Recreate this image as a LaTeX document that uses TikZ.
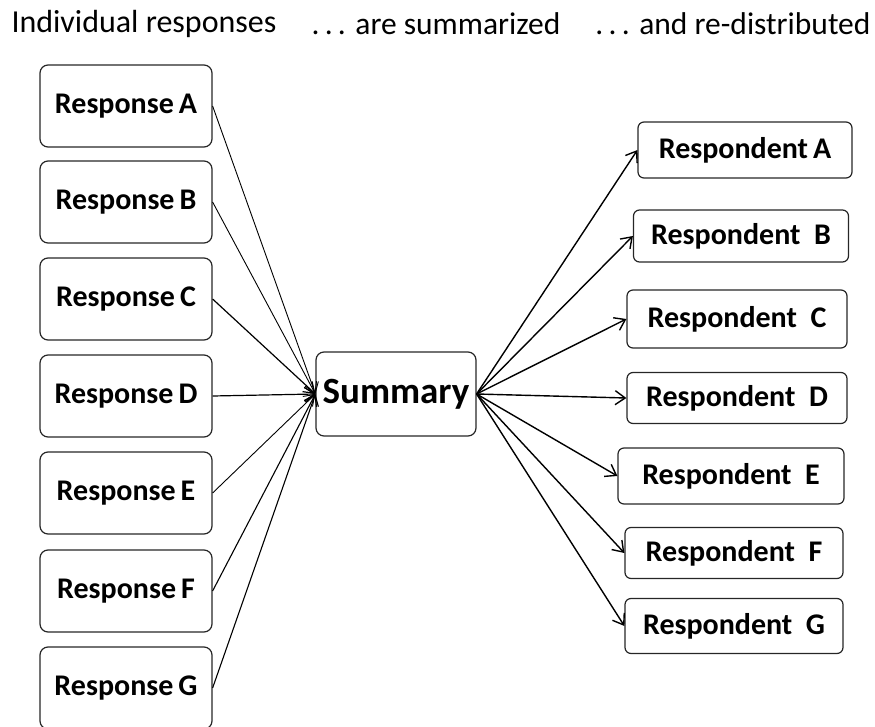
\documentclass[tikz,border=0pt]{standalone}
\usepackage{fontspec}
\setmainfont{Carlito}
\usetikzlibrary{arrows.meta}
\begin{document}
\begin{tikzpicture}[x=1pt,y=-1pt,font=\fontsize{30}{34}\selectfont\bfseries,
    resp/.style={draw=black!85,line width=1.2pt,rounded corners=8pt,minimum width=172pt,minimum height=82pt},
    dest/.style={draw=black!85,line width=1.2pt,rounded corners=6pt,inner xsep=0pt},
    arr/.style={->,>={Straight Barb[length=10pt,width=14pt]}}]
    \useasboundingbox (0,0) rectangle (875,727);
    % headings
    \node[font=\fontsize{32}{34}\selectfont] (h1) at (144,24) {Individual responses};
    \node[font=\fontsize{31.5}{34}\selectfont] (h2) at (436,24) {.\,.\,. are summarized};
    \node[font=\fontsize{31.5}{34}\selectfont] (h3) at (733,24) {.\,.\,. and re-distributed};
    % individual responses
    \node[resp] (rA) at (126,106) {Response\,A};
    \node[resp] (rB) at (126,202) {Response\,B};
    \node[resp] (rC) at (126,299) {Response\,C};
    \node[resp] (rD) at (126,396) {Response\,D};
    \node[resp] (rE) at (126,493) {Response\,E};
    \node[resp] (rF) at (126,591) {Response\,F};
    \node[resp] (rG) at (126,688) {Response\,G};
    % summary
    \node[draw=black!85,line width=1.2pt,rounded corners=8pt,minimum width=160pt,minimum height=84pt,
        font=\fontsize{37}{40}\selectfont\bfseries] (sum) at (396,394) {Summary};
    % respondents
    \node[dest,minimum width=214pt,minimum height=56pt] (pA) at (745,150) {Respondent\,A};
    \node[dest,minimum width=215pt,minimum height=52pt] (pB) at (741,236) {Respondent\ \ B};
    \node[dest,minimum width=220pt,minimum height=58pt] (pC) at (737,319) {Respondent\ \ C};
    \node[dest,minimum width=220pt,minimum height=51pt] (pD) at (737,398) {Respondent\ \ D};
    \node[dest,minimum width=226pt,minimum height=56pt] (pE) at (731,476) {Respondent\ \ E};
    \node[dest,minimum width=218pt,minimum height=51pt] (pF) at (734,553) {Respondent\ \ F};
    \node[dest,minimum width=218pt,minimum height=55pt] (pG) at (734,626) {Respondent\ \ G};
    % summarizing
    \draw[arr,line width=0.9pt] (rA.east) -- (sum.west);
    \draw[arr,line width=0.9pt] (rB.east) -- (sum.west);
    \draw[arr,line width=1.2pt] (rC.east) -- (sum.west);
    \draw[arr,line width=1.2pt] (rD.east) -- (sum.west);
    \draw[arr,line width=0.9pt] (rE.east) -- (sum.west);
    \draw[arr,line width=1.1pt] (rF.east) -- (sum.west);
    \draw[arr,line width=1.1pt] (rG.east) -- (sum.west);
    % re-distributing
    \draw[arr,line width=1.4pt] (sum.east) -- (pA.west);
    \draw[arr,line width=1.4pt] (sum.east) -- (pB.west);
    \draw[arr,line width=1.4pt] (sum.east) -- (pC.west);
    \draw[arr,line width=1.4pt] (sum.east) -- (pD.west);
    \draw[arr,line width=1.4pt] (sum.east) -- (pE.west);
    \draw[arr,line width=1.4pt] (sum.east) -- (pF.west);
    \draw[arr,line width=1.4pt] (sum.east) -- (pG.west);
\end{tikzpicture}
\end{document}
